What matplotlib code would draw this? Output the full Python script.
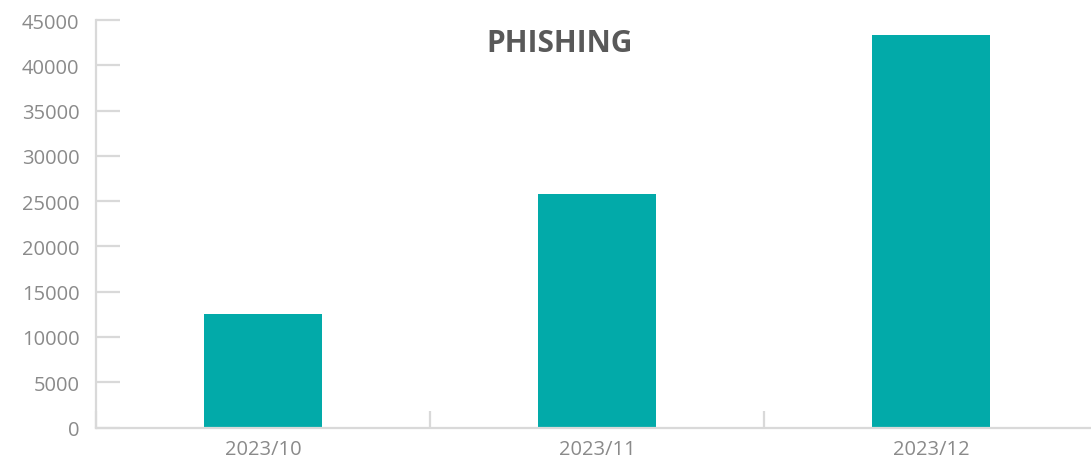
import matplotlib.pyplot as plt

months = ["2023/10", "2023/11", "2023/12"]
counts = [12500, 25750, 43300]

plt.rcParams['font.family'] = ['Open Sans', 'DejaVu Sans']

fig = plt.figure(figsize=(10.91, 4.64), dpi=100)
ax = fig.add_axes([96 / 1091, 35.5 / 464, 1002 / 1091, 407.5 / 464])

x = list(range(len(months)))
ax.bar(x, counts, width=0.353, color='#02aaa9', zorder=2)

ax.set_xlim(-0.5, 2.5)
ax.set_ylim(0, 45000)
ax.set_yticks(range(0, 45001, 5000))
ax.set_xticks(x)
ax.set_xticklabels(months)
ax.set_xticks([-0.5, 0.5, 1.5], minor=True)

grey = '#d9d9d9'
for s in ['top', 'right']:
    ax.spines[s].set_visible(False)
for s in ['left', 'bottom']:
    ax.spines[s].set_color(grey)
    ax.spines[s].set_linewidth(1.6)

ax.tick_params(axis='y', direction='in', length=17, width=1.6, color=grey,
               labelcolor='#8a8a8a', labelsize=14.5, pad=12)
ax.tick_params(axis='x', which='major', length=0, labelcolor='#8a8a8a',
               labelsize=14.5, pad=8)
ax.tick_params(axis='x', which='minor', direction='in', length=12, width=1.6, color=grey)

fig.text(560 / 1091, 1 - 44 / 464, "PHISHING", ha='center', va='center',
         fontsize=21.5, fontweight='bold', color='#595959')

fig.savefig("out.png", dpi=100)
